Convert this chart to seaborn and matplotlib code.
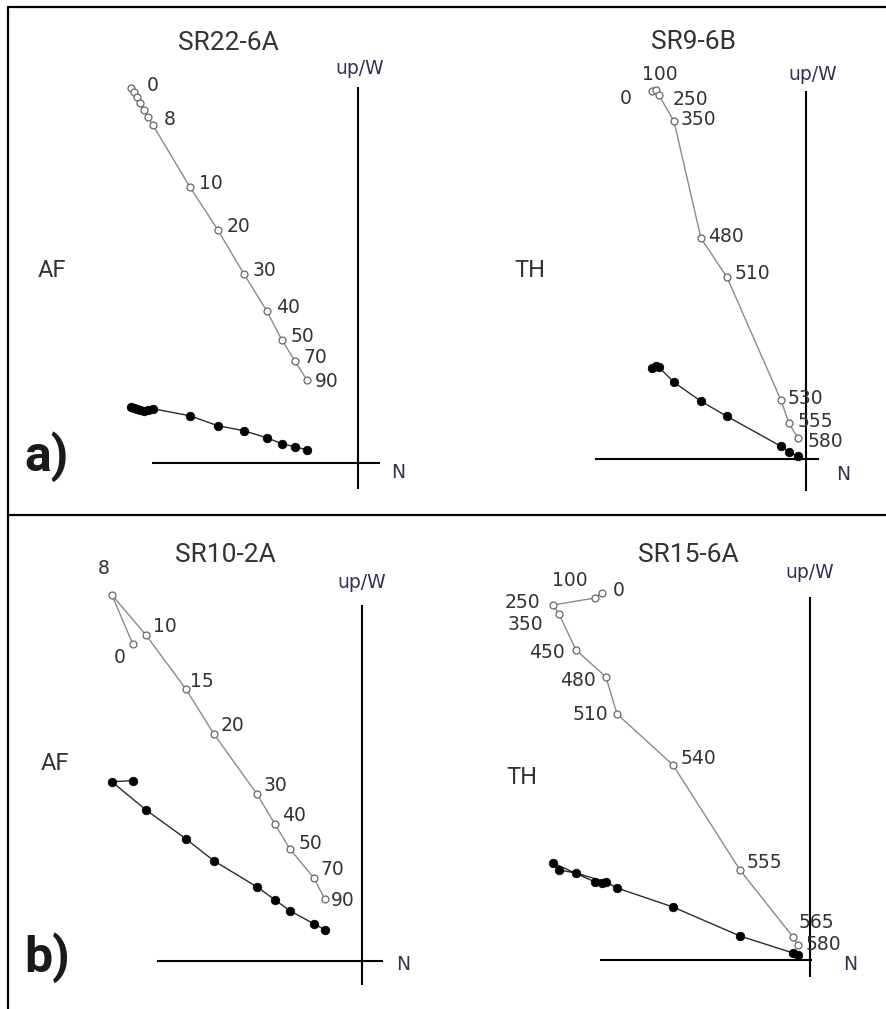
import matplotlib
matplotlib.use("Agg")
import matplotlib.pyplot as plt
from matplotlib.lines import Line2D
import seaborn as sns
import pandas as pd

# ---------------- data (relative to the axis crossing, arbitrary units) ----------------
# a) SR22-6A  (AF)
sr22_steps = ["0", "", "", "", "", "", "8", "10", "20", "30", "40", "50", "70", "90"]
sr22_n = [-227, -224, -221, -218, -214, -210, -205, -168, -140, -114, -91, -76, -63, -51]
sr22_up = [375, 371, 366, 360, 353, 346, 338, 276, 233, 189, 152, 123, 102, 83]
sr22_e = [56, 55, 54, 53, 52, 53, 54, 47, 37, 32, 25, 19, 16, 13]

# a) SR9-6B  (TH)
sr9_steps = ["0", "100", "250", "350", "480", "510", "530", "555", "580"]
sr9_n = [-154, -150, -147, -132, -105, -79, -25, -17, -8]
sr9_up = [368, 369, 364, 338, 221, 182, 59, 36, 21]
sr9_e = [91, 93, 92, 77, 58, 43, 13, 7, 3]

# b) SR10-2A  (AF)
sr10_steps = ["0", "8", "10", "15", "20", "30", "40", "50", "70", "90"]
sr10_n = [-229, -250, -216, -176, -148, -105, -87, -72, -48, -37]
sr10_up = [317, 366, 326, 272, 227, 167, 137, 112, 83, 62]
sr10_e = [180, 179, 151, 122, 100, 74, 61, 50, 37, 31]

# b) SR15-6A  (TH)
sr15_steps = ["0", "100", "250", "350", "450", "480", "510", "540", "555", "565", "580"]
sr15_n = [-208, -215, -257, -251, -234, -204, -193, -137, -70, -17, -12]
sr15_up = [367, 362, 355, 346, 310, 283, 246, 195, 90, 23, 15]
sr15_e = [77, 78, 97, 90, 87, 78, 72, 53, 24, 7, 5]

# ---------------- style ----------------
sns.set_style("white")
plt.rcParams['font.family'] = ['DejaVu Sans']

W, H = 886, 1009
fig = plt.figure(figsize=(W / 100, H / 100), dpi=100)
fig.patch.set_facecolor('white')


def fx(x):
    return x / W


def fy(y):
    return 1 - y / H


def make_axes(region, origin):
    x0, y0, x1, y1 = region
    ox, oy = origin
    ax = fig.add_axes([fx(x0), fy(y1), (x1 - x0) / W, (y1 - y0) / H])
    ax.set_xlim(x0 - ox, x1 - ox)
    ax.set_ylim(oy - y1, oy - y0)
    ax.set_axis_off()
    return ax


def draw_panel(ax, n, up, e, steps, offsets, default, hx, vy):
    ax.hlines(0, hx[0], hx[1], color='black', lw=1.5, zorder=1)
    ax.vlines(0, vy[0], vy[1], color='black', lw=1.5, zorder=1)
    df = pd.DataFrame({'n': n, 'up': up, 'e': e})
    sns.lineplot(data=df, x='n', y='e', sort=False, estimator=None, color='#2b2b2b',
                 lw=1.0, marker='o', markersize=6.2, markerfacecolor='black',
                 markeredgecolor='black', markeredgewidth=0.5, ax=ax, zorder=3)
    sns.lineplot(data=df, x='n', y='up', sort=False, estimator=None, color='#8a8a8a',
                 lw=1.0, marker='o', markersize=5, markerfacecolor='white',
                 markeredgecolor='#666666', markeredgewidth=0.9, ax=ax, zorder=4)
    ax.set_xlabel('')
    ax.set_ylabel('')
    for xi, yi, s in zip(n, up, steps):
        if not s:
            continue
        dx, dy, ha = offsets.get(s, default)
        ax.annotate(s, (xi, yi), xytext=(dx, dy), textcoords='offset pixels',
                    ha=ha, va='center', fontsize=13.5, color='#333333', zorder=5)


panels = [
    dict(region=(10, 10, 440, 513), origin=(357.7, 462.7),
         data=(sr22_n, sr22_up, sr22_e, sr22_steps),
         default=(9, 3, 'left'),
         offsets={"0": (16, 2, 'left'), "8": (11, 5, 'left'), "90": (8, -2, 'left')},
         hx=(-206, 22), vy=(-26, 376)),
    dict(region=(445, 10, 884, 513), origin=(806, 459.3),
         data=(sr9_n, sr9_up, sr9_e, sr9_steps),
         default=(7, 2, 'left'),
         offsets={"0": (-20, -7, 'right'), "100": (4, 16, 'center'), "250": (14, -4, 'left'),
                  "510": (8, 4, 'left'), "555": (9, 2, 'left'), "580": (10, -3, 'left')},
         hx=(-211, 13), vy=(-32, 368)),
    dict(region=(10, 518, 440, 1009), origin=(361.7, 960.7),
         data=(sr10_n, sr10_up, sr10_e, sr10_steps),
         default=(7, 8, 'left'),
         offsets={"8": (-8, 26, 'center'), "0": (-13, -14, 'center'), "15": (4, 7, 'left'),
                  "50": (9, 5, 'left'), "90": (6, -2, 'left')},
         hx=(-205, 21), vy=(-24, 356)),
    dict(region=(445, 518, 884, 1009), origin=(810, 960),
         data=(sr15_n, sr15_up, sr15_e, sr15_steps),
         default=(7, 8, 'left'),
         offsets={"0": (11, 3, 'left'), "100": (-7, 17, 'right'), "250": (-13, 3, 'right'),
                  "350": (-16, -11, 'right'), "450": (-11, -3, 'right'),
                  "480": (-10, -3, 'right'), "510": (-9, -1, 'right'),
                  "540": (8, 7, 'left'), "555": (7, 8, 'left'), "565": (6, 14, 'left'),
                  "580": (8, 0, 'left')},
         hx=(-210, 2), vy=(-17, 363)),
]

for p in panels:
    ax = make_axes(p['region'], p['origin'])
    n, up, e, steps = p['data']
    draw_panel(ax, n, up, e, steps, p['offsets'], p['default'], p['hx'], p['vy'])

# ---------------- frame ----------------
for xs, ys in [((8, 886), (7, 7)), ((8, 8), (7, 1009)), ((8, 886), (515, 515))]:
    fig.add_artist(Line2D([fx(xs[0]), fx(xs[1])], [fy(ys[0]), fy(ys[1])],
                          color='black', lw=1.6))

# ---------------- texts ----------------
title_kw = dict(fontfamily='Roboto', fontsize=19, color='#333333', ha='center', va='center')
for t, (x, y) in [("SR22-6A", (228, 43)), ("SR9-6B", (693, 42)),
                  ("SR10-2A", (225, 555)), ("SR15-6A", (688, 555))]:
    fig.text(fx(x), fy(y), t, **title_kw)

axis_kw = dict(fontsize=13.5, color='#3a2d50', ha='center', va='center')
for t, (x, y) in [("up/W", (360, 68)), ("up/W", (813, 74)), ("up/W", (362, 583)), ("up/W", (810, 573)),
                  ("N", (398, 472)), ("N", (843, 475)), ("N", (403, 965)), ("N", (850, 965))]:
    fig.text(fx(x), fy(y), t, **axis_kw)

meth_kw = dict(fontfamily='Roboto', fontsize=17, color='#333333', ha='center', va='center')
for t, (x, y) in [("AF", (52, 270)), ("TH", (530, 270)), ("AF", (55, 763)), ("TH", (522, 778))]:
    fig.text(fx(x), fy(y), t, **meth_kw)

lab_kw = dict(fontfamily='Roboto', fontweight='bold', fontsize=36, color='#1a1a1a',
              ha='center', va='center')
fig.text(fx(47), fy(457), "a)", **lab_kw)
fig.text(fx(47), fy(958), "b)", **lab_kw)

fig.savefig("out.png", dpi=100, facecolor='white')
